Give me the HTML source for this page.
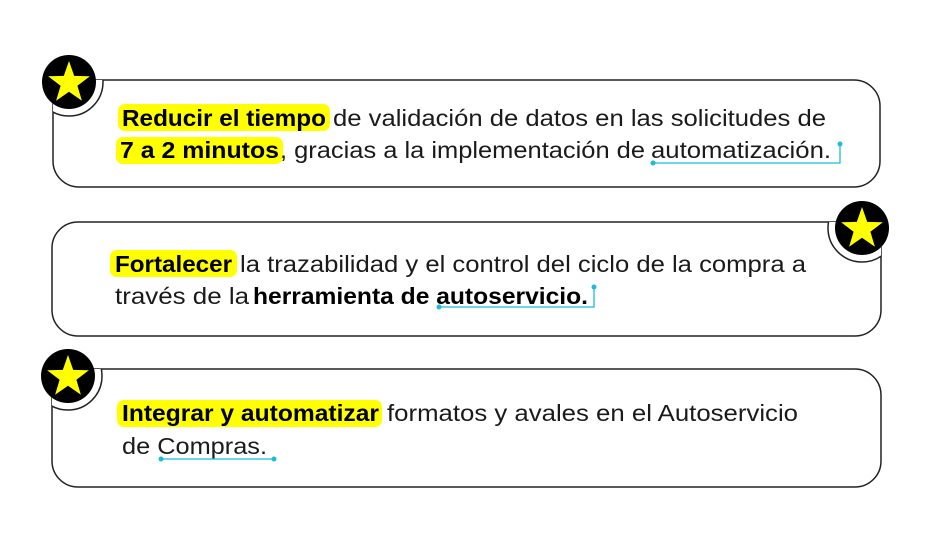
<!DOCTYPE html>
<html><head><meta charset="utf-8"><style>html,body{margin:0;padding:0;background:#fff}svg{display:block}text{font-family:"Liberation Sans",sans-serif;font-size:23px;fill:#1a1a1a}.b{font-weight:bold;fill:#000}</style></head>
<body>
<svg width="933" height="544" viewBox="0 0 933 544" xmlns="http://www.w3.org/2000/svg">
<defs>
<clipPath id="c1"><rect x="53" y="80" width="827" height="107" rx="26"/></clipPath>
<clipPath id="c2"><rect x="52" y="222" width="829" height="114" rx="26"/></clipPath>
<clipPath id="c3"><rect x="52" y="369" width="829" height="118" rx="26"/></clipPath>
<polygon id="st" points="0,-22 5.2,-7.1 20.9,-6.8 8.4,2.7 12.9,17.8 0,8.8 -12.9,17.8 -8.4,2.7 -20.9,-6.8 -5.2,-7.1" fill="#ffff00"/>
</defs>
<g fill="#fff" stroke="#222" stroke-width="1.5">
<rect x="53" y="80" width="827" height="107" rx="26"/>
<circle cx="69" cy="82" r="34" clip-path="url(#c1)"/>
<rect x="52" y="222" width="829" height="114" rx="26"/>
<circle cx="862" cy="228" r="34" clip-path="url(#c2)"/>
<rect x="52" y="369" width="829" height="118" rx="26"/>
<circle cx="68" cy="376" r="34" clip-path="url(#c3)"/>
</g>
<circle cx="69" cy="82" r="27" fill="#000"/><use href="#st" x="69" y="83"/>
<circle cx="862" cy="228" r="27" fill="#000"/><use href="#st" x="862" y="229"/>
<circle cx="68" cy="376" r="27" fill="#000"/><use href="#st" x="68" y="377"/>
<g fill="#ffff00">
<rect x="118" y="104" width="212" height="27" rx="7"/>
<rect x="116" y="137" width="167" height="27" rx="7"/>
<rect x="110" y="250" width="127" height="27" rx="7"/>
<rect x="117" y="400" width="265" height="27" rx="7"/>
</g>
<text class="b" x="122" y="126" textLength="204" lengthAdjust="spacingAndGlyphs">Reducir el tiempo</text>
<text x="333" y="126" textLength="493" lengthAdjust="spacingAndGlyphs">de validación de datos en las solicitudes de</text>
<text class="b" x="120" y="158" textLength="159" lengthAdjust="spacingAndGlyphs">7 a 2 minutos</text>
<text x="280" y="158" textLength="365" lengthAdjust="spacingAndGlyphs">, gracias a la implementación de</text>
<text x="651" y="158" textLength="180" lengthAdjust="spacingAndGlyphs">automatización.</text>
<text class="b" x="115" y="272" textLength="117" lengthAdjust="spacingAndGlyphs">Fortalecer</text>
<text x="240" y="272" textLength="566" lengthAdjust="spacingAndGlyphs">la trazabilidad y el control del ciclo de la compra a</text>
<text x="115" y="304" textLength="134" lengthAdjust="spacingAndGlyphs">través de la</text>
<text class="b" x="253" y="304" textLength="335" lengthAdjust="spacingAndGlyphs">herramienta de autoservicio.</text>
<text class="b" x="122" y="421" textLength="257" lengthAdjust="spacingAndGlyphs">Integrar y automatizar</text>
<text x="387" y="421" textLength="411" lengthAdjust="spacingAndGlyphs">formatos y avales en el Autoservicio</text>
<text x="122" y="454" textLength="145" lengthAdjust="spacingAndGlyphs">de Compras.</text>
<g stroke="#1bbcd6" stroke-width="1.3" fill="none">
<polyline points="653,163 840,163 840,145"/>
<polyline points="439,307 594,307 594,288"/>
<polyline points="161,459 274,459"/>
</g>
<g fill="#1bbcd6">
<circle cx="653" cy="163" r="2.5"/><circle cx="840" cy="144" r="2.5"/>
<circle cx="439" cy="307" r="2.5"/><circle cx="594" cy="287" r="2.5"/>
<circle cx="161" cy="459" r="2.5"/><circle cx="274" cy="459" r="2.5"/>
</g>
</svg>
</body></html>
